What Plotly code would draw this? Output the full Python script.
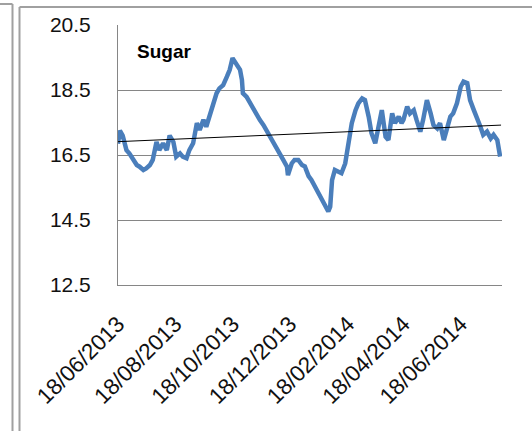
import plotly.graph_objects as go

dates = [
    "2013-06-18", "2013-06-20", "2013-06-23", "2013-06-27", "2013-06-30", "2013-07-04",
    "2013-07-08", "2013-07-11", "2013-07-15", "2013-07-18", "2013-07-22", "2013-07-25",
    "2013-07-29", "2013-08-01", "2013-08-05", "2013-08-09", "2013-08-12", "2013-08-16",
    "2013-08-19", "2013-08-23", "2013-08-26", "2013-08-30", "2013-09-02", "2013-09-06",
    "2013-09-10", "2013-09-13", "2013-09-17", "2013-09-20", "2013-09-24", "2013-09-27",
    "2013-10-01", "2013-10-04", "2013-10-08", "2013-10-12", "2013-10-15", "2013-10-18",
    "2013-10-22", "2013-10-26", "2013-10-28", "2013-10-29", "2013-11-02", "2013-11-05",
    "2013-11-09", "2013-11-13", "2013-11-16", "2013-11-20", "2013-11-23", "2013-11-27",
    "2013-11-30", "2013-12-04", "2013-12-07", "2013-12-11", "2013-12-15", "2013-12-16",
    "2013-12-20", "2013-12-23", "2013-12-27", "2013-12-31", "2014-01-03", "2014-01-07",
    "2014-01-10", "2014-01-14", "2014-01-17", "2014-01-21", "2014-01-24", "2014-01-28",
    "2014-01-30", "2014-02-01", "2014-02-04", "2014-02-08", "2014-02-11", "2014-02-15",
    "2014-02-18", "2014-02-22", "2014-02-26", "2014-03-01", "2014-03-05", "2014-03-08",
    "2014-03-12", "2014-03-15", "2014-03-19", "2014-03-22", "2014-03-26", "2014-03-30",
    "2014-04-02", "2014-04-06", "2014-04-09", "2014-04-13", "2014-04-16", "2014-04-18",
    "2014-04-22", "2014-04-25", "2014-04-29", "2014-05-02", "2014-05-06", "2014-05-09",
    "2014-05-13", "2014-05-17", "2014-05-20", "2014-05-24", "2014-05-27", "2014-05-31",
    "2014-06-03", "2014-06-07", "2014-06-10", "2014-06-14", "2014-06-18", "2014-06-21",
    "2014-06-25", "2014-06-28", "2014-07-02", "2014-07-05", "2014-07-09", "2014-07-12",
    "2014-07-16", "2014-07-20", "2014-07-23", "2014-07-27", "2014-07-30",
]

sugar = [
    16.85, 17.25, 17.10, 16.65, 16.55, 16.35,
    16.19, 16.14, 16.04, 16.09, 16.19, 16.35,
    16.90, 16.65, 16.86, 16.65, 17.10, 16.90,
    16.45, 16.55, 16.45, 16.40, 16.65, 16.86,
    17.48, 17.27, 17.58, 17.37, 17.72, 18.05,
    18.40, 18.55, 18.65, 18.91, 19.12, 19.48,
    19.32, 19.12, 18.81, 18.40, 18.29, 18.14,
    17.88, 17.73, 17.58, 17.42, 17.27, 17.12,
    16.96, 16.76, 16.60, 16.35, 16.14, 15.88,
    16.24, 16.35, 16.35, 16.19, 16.15, 15.85,
    15.73, 15.52, 15.32, 15.17, 15.01, 14.76,
    14.91, 15.73, 16.04, 15.99, 15.94, 16.24,
    16.76, 17.48, 17.88, 18.09, 18.24, 18.19,
    17.68, 17.17, 16.86, 17.27, 17.88, 17.06,
    16.96, 17.78, 17.48, 17.68, 17.48, 17.58,
    17.99, 17.78, 17.88, 17.58, 17.22, 17.58,
    18.19, 17.78, 17.42, 17.32, 17.48, 16.96,
    17.27, 17.68, 17.78, 18.09, 18.60, 18.76,
    18.71, 18.19, 17.88, 17.68, 17.37, 17.12,
    17.22, 17.01, 17.12, 16.96, 16.45,
]

trend_dates = ["2013-06-18", "2014-07-31"]
trend_values = [16.91, 17.42]

tick_dates = ["2013-06-18", "2013-08-18", "2013-10-18", "2013-12-18",
              "2014-02-18", "2014-04-18", "2014-06-18"]
tick_labels = ["18/06/2013", "18/08/2013", "18/10/2013", "18/12/2013",
               "18/02/2014", "18/04/2014", "18/06/2014"]

y_ticks = [12.5, 14.5, 16.5, 18.5, 20.5]
y_labels = ["12.5", "14.5", "16.5", "18.5", "20.5"]

W, H = 532, 431
L, R, T, B = 118, 30, 25, 146
PW, PH = W - L - R, H - T - B


def px(x):
    return (x - L) / PW


def py(y):
    return (H - B - y) / PH


fig = go.Figure()
fig.add_trace(go.Scatter(x=dates, y=sugar, mode="lines",
                         line=dict(color="#4A7EBB", width=4.5), hoverinfo="skip",
                         showlegend=False))
fig.add_trace(go.Scatter(x=trend_dates, y=trend_values, mode="lines",
                         line=dict(color="#000000", width=1), hoverinfo="skip",
                         showlegend=False))

grey = "#A0A0A0"
frame = [
    (12.5, 4, 12.5, H), (0, 4, 12.5, 4),
    (19.5, 7, 19.5, H), (19.5, 7, W, 7),
]
for x0, y0, x1, y1 in frame:
    fig.add_shape(type="line", xref="paper", yref="paper",
                  x0=px(x0), y0=py(y0), x1=px(x1), y1=py(y1),
                  line=dict(color=grey, width=2), layer="above")

fig.add_annotation(text="<b>Sugar</b>", xref="paper", yref="paper",
                   x=px(135), y=py(52), xanchor="left", yanchor="middle",
                   showarrow=False,
                   font=dict(family="Liberation Sans", size=19, color="#000000"))

fig.update_layout(
    width=W, height=H,
    margin=dict(l=L, r=R, t=T, b=B, pad=0),
    paper_bgcolor="white", plot_bgcolor="white",
    font=dict(family="Liberation Sans", size=21, color="#111111"),
    xaxis=dict(type="date", range=["2013-06-18", "2014-08-01"],
               tickvals=tick_dates, ticktext=tick_labels, tickangle=-45,
               tickfont=dict(size=22.5),
               showgrid=False, showline=True, linecolor="#868686", linewidth=1,
               ticks="", ticklabelstandoff=16, zeroline=False),
    yaxis=dict(range=[12.5, 20.5], tickvals=y_ticks, ticktext=y_labels,
               showgrid=True, gridcolor="#868686", gridwidth=1,
               showline=True, linecolor="#868686", linewidth=1,
               ticks="", ticklabelstandoff=22, zeroline=False),
)

fig.write_html("out.html", config={"displayModeBar": False},
               post_script="document.body.style.margin='0';document.body.style.overflow='hidden';")
